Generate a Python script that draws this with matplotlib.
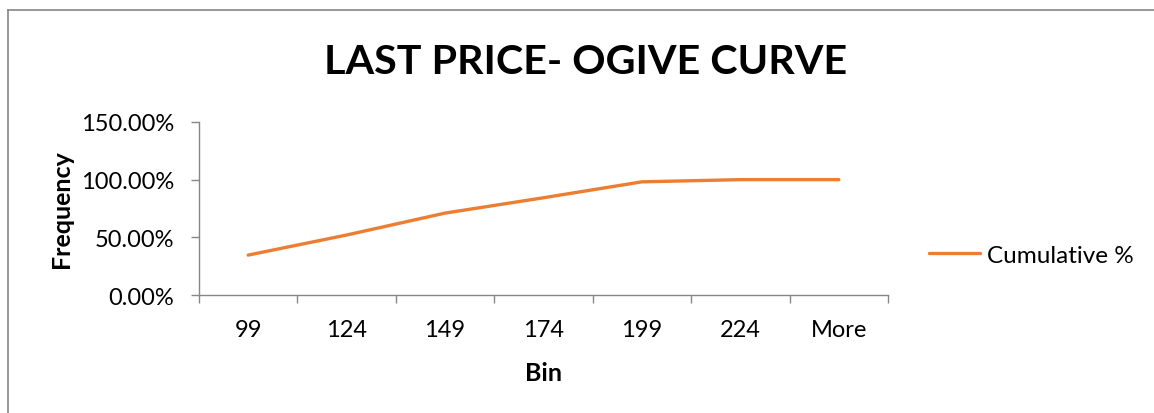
import numpy as np
import matplotlib
matplotlib.use("Agg")
import matplotlib.pyplot as plt
from matplotlib.lines import Line2D
from matplotlib.ticker import FixedLocator, PercentFormatter

plt.rcParams['font.family'] = ['Lato', 'DejaVu Sans']

# data
bins = ["99", "124", "149", "174", "199", "224", "More"]
cumulative_pct = [34.6, 52.0, 71.0, 84.3, 98.1, 100.0, 100.0]

line_color = "#ED7D31"
axis_color = "#868686"

fig = plt.figure(figsize=(11.54, 4.14), dpi=100)
ax = fig.add_axes([0.1724, 0.285, 0.5971, 0.418])

x = np.arange(len(bins))
ax.plot(x, cumulative_pct, color=line_color, linewidth=2.4,
        solid_capstyle="round", label="Cumulative %")

ax.set_xlim(-0.5, len(bins) - 0.5)
ax.set_ylim(0, 150)
ax.set_yticks([0, 50, 100, 150])
ax.yaxis.set_major_formatter(PercentFormatter(decimals=2))

# Excel-style category axis: ticks between categories, labels at centres
ax.xaxis.set_major_locator(FixedLocator(np.arange(len(bins) + 1) - 0.5))
ax.xaxis.set_minor_locator(FixedLocator(x))
ax.set_xticklabels([], minor=False)
ax.set_xticklabels(bins, minor=True)
ax.tick_params(axis="x", which="major", length=6, color=axis_color, width=1)
ax.tick_params(axis="x", which="minor", length=0, pad=17, labelsize=17)
ax.tick_params(axis="y", length=6, color=axis_color, width=1, pad=12,
               labelsize=17)

for side in ("top", "right"):
    ax.spines[side].set_visible(False)
for side in ("left", "bottom"):
    ax.spines[side].set_color(axis_color)
    ax.spines[side].set_linewidth(1)

ax.set_xlabel("Bin", fontsize=18, fontweight="bold")
ax.set_ylabel("Frequency", fontsize=18, fontweight="bold")
ax.xaxis.label.set_va("center")
ax.yaxis.label.set_va("center")
ax.xaxis.set_label_coords(0.5, -0.445)
ax.yaxis.set_label_coords(-0.199, 0.5)

fig.text(0.507, 0.848, "LAST PRICE- OGIVE CURVE", ha="center", va="center",
         fontsize=29.7, fontweight="bold")

ax.legend(loc="center left", bbox_to_anchor=(1.059, 0.231), frameon=False,
          fontsize=17.5, handlelength=2.1, handletextpad=0.28,
          borderpad=0, borderaxespad=0)

# chart area border (cut off at right and bottom in the reference)
fig.add_artist(Line2D([7.5 / 1154, 7.5 / 1154], [0, 1 - 10.5 / 414],
                      transform=fig.transFigure, color=axis_color, lw=1.2))
fig.add_artist(Line2D([7.5 / 1154, 1], [1 - 10.5 / 414, 1 - 10.5 / 414],
                      transform=fig.transFigure, color=axis_color, lw=1.2))

fig.savefig("out.png", dpi=100, facecolor="white")
